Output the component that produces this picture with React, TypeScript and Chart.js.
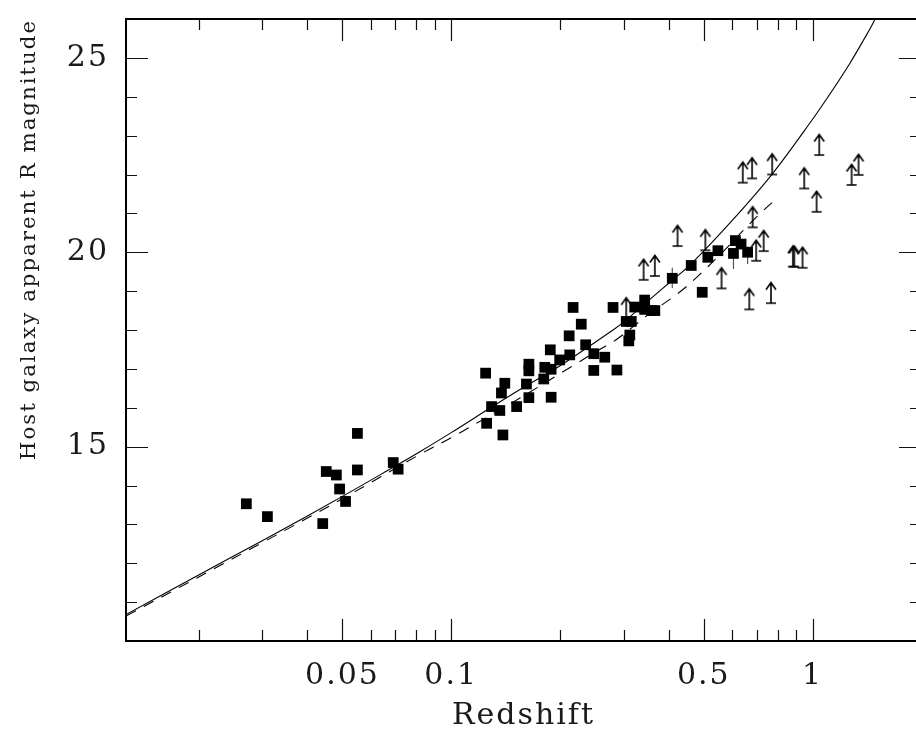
import React, { useEffect, useRef } from 'react';
import { Chart, registerables } from 'chart.js';

Chart.register(...registerables);

// ---- Data ----
// Host galaxy detections: redshift and apparent R magnitude
const detZ = [
  0.0271, 0.031, 0.0441, 0.0451, 0.0481, 0.0491, 0.051, 0.055, 0.055, 0.0691, 0.0713,
  0.1245, 0.1407, 0.1377, 0.1293, 0.1363, 0.1253, 0.139, 0.1517, 0.164, 0.164, 0.1615, 0.164,
  0.1815, 0.1803, 0.189, 0.188, 0.189, 0.1996, 0.212, 0.2128, 0.2355, 0.248, 0.248, 0.266, 0.2874,
  0.2174, 0.229, 0.2804, 0.305, 0.315, 0.312, 0.31, 0.322, 0.343, 0.343, 0.358, 0.366,
  0.409, 0.4615, 0.495, 0.513, 0.547, 0.604, 0.6115, 0.634, 0.661,
];
const detMag = [
  13.53, 13.2, 13.02, 14.36, 14.27, 13.91, 13.59, 15.34, 14.4, 14.59, 14.42,
  16.89, 16.63, 16.38, 16.03, 15.93, 15.6, 15.3, 16.03, 17.12, 16.95, 16.61, 16.26,
  17.04, 16.74, 16.99, 17.49, 16.27, 17.23, 17.85, 17.36, 17.62, 17.39, 16.96, 17.3, 16.97,
  18.58, 18.15, 18.58, 18.22, 18.22, 17.87, 17.72, 18.59, 18.77, 18.53, 18.5, 18.5,
  19.33, 19.66, 18.97, 19.87, 20.04, 19.97, 20.3, 20.21, 20.0,
];

// Lower limits on magnitude (upward arrows): position of the arrow base
const limZ = [
  0.305, 0.3407, 0.366, 0.4229, 0.505, 0.5597, 0.641, 0.668, 0.68, 0.6826, 0.698, 0.732,
  0.767, 0.773, 0.882, 0.89, 0.938, 0.948, 1.026, 1.043, 1.282, 1.34,
];
const limMag = [
  18.3, 19.29, 19.39, 20.16, 20.05, 19.07, 21.79, 18.53, 21.9, 20.64, 19.78, 20.03,
  18.69, 22.0, 19.63, 19.63, 19.6, 21.64, 21.04, 22.5, 21.73, 21.99,
];

// Small vertical error bars
const errZ = [0.409, 0.604, 0.661];
const errLow = [19.08, 19.57, 19.7];
const errHigh = [19.6, 20.08, 20.15];

// Model curve (solid)
const modelZ = [
  0.012589, 0.02, 0.03, 0.05, 0.07, 0.0819, 0.1, 0.13, 0.155, 0.2, 0.2805, 0.305, 0.354,
  0.409, 0.4615, 0.601, 0.776, 1.0, 1.13, 1.27, 1.38, 1.48, 1.56,
];
const modelMag = [
  10.68, 11.7, 12.58, 13.72, 14.5, 14.87, 15.36, 16.03, 16.47, 17.08, 18.0, 18.26, 18.78,
  19.28, 19.7, 20.83, 22.03, 23.42, 24.14, 24.87, 25.44, 25.95, 26.45,
];

// Alternative model curve (dashed)
const altZ = [
  0.012589, 0.03, 0.05, 0.0819, 0.1013, 0.155, 0.217, 0.2576, 0.286, 0.354, 0.428, 0.486,
  0.57, 0.641, 0.713, 0.8005,
];
const altMag = [
  10.64, 12.53, 13.66, 14.8, 15.26, 16.25, 17.08, 17.5, 17.75, 18.42, 18.97, 19.42,
  20.05, 20.55, 20.98, 21.41,
];

// Axes
const X_MIN = 0.012589;
const X_MAX = 1.9953;
const Y_MIN = 10;
const Y_MAX = 26;
const xLabelTicks = [0.05, 0.1, 0.5, 1];
const xMinorTicks = [0.02, 0.03, 0.04, 0.06, 0.07, 0.08, 0.09, 0.2, 0.3, 0.4, 0.6, 0.7, 0.8, 0.9];
const yLabelTicks = [15, 20, 25];
const yMinorTicks = [11, 12, 13, 14, 16, 17, 18, 19, 21, 22, 23, 24];

const X_TITLE = 'Redshift';
const Y_TITLE = 'Host galaxy apparent R magnitude';

const FONT = '"DejaVu Serif", serif';
const INK = '#1a1a1a';

function makeArrow(): HTMLCanvasElement {
  const c = document.createElement('canvas');
  c.width = 14;
  c.height = 46;
  const g = c.getContext('2d')!;
  g.strokeStyle = '#000';
  g.lineWidth = 1.6;
  g.lineCap = 'butt';
  g.beginPath();
  g.moveTo(2, 23);
  g.lineTo(12, 23);
  g.moveTo(7, 23);
  g.lineTo(7, 3.5);
  g.moveTo(2, 9.5);
  g.lineTo(7, 2.5);
  g.lineTo(12, 9.5);
  g.stroke();
  return c;
}

const frameTicks = {
  id: 'frameTicks',
  beforeDraw(chart: any) {
    try {
      chart.ctx.letterSpacing = '2px';
    } catch (e) {}
  },
  afterDraw(chart: any) {
    const { ctx, chartArea } = chart;
    const { left, right, top, bottom } = chartArea;
    const xs = chart.scales.x;
    const ys = chart.scales.y;
    ctx.save();
    ctx.strokeStyle = '#111';
    ctx.lineWidth = 1.2;
    ctx.beginPath();
    const xt = (v: number, len: number) => {
      const p = Math.round(xs.getPixelForValue(v)) + 0.5;
      ctx.moveTo(p, bottom);
      ctx.lineTo(p, bottom - len);
      ctx.moveTo(p, top);
      ctx.lineTo(p, top + len);
    };
    const yt = (v: number, len: number) => {
      const p = Math.round(ys.getPixelForValue(v)) + 0.5;
      ctx.moveTo(left, p);
      ctx.lineTo(left + len, p);
      ctx.moveTo(right, p);
      ctx.lineTo(right - len, p);
    };
    xLabelTicks.forEach((v) => xt(v, 22));
    xMinorTicks.forEach((v) => xt(v, 11));
    yLabelTicks.forEach((v) => yt(v, 22));
    yMinorTicks.forEach((v) => yt(v, 11));
    ctx.stroke();
    ctx.lineWidth = 2;
    ctx.strokeStyle = '#000';
    ctx.strokeRect(left, top, right - left, bottom - top);
    ctx.restore();
  },
};

export default function App() {
  const ref = useRef<HTMLCanvasElement | null>(null);

  useEffect(() => {
    if (!ref.current) return;
    const arrow = makeArrow();

    const errSets = errZ.map((z, i) => ({
      type: 'scatter' as const,
      data: [
        { x: z, y: errLow[i] },
        { x: z, y: errHigh[i] },
      ],
      showLine: true,
      borderColor: '#555',
      borderWidth: 1.2,
      pointRadius: 0,
    }));

    const chart = new Chart(ref.current, {
      type: 'scatter',
      data: {
        datasets: [
          {
            label: 'detections',
            data: detZ.map((z, i) => ({ x: z, y: detMag[i] })),
            pointStyle: 'rect',
            pointRadius: 7.6,
            backgroundColor: '#000',
            borderWidth: 0,
          },
          {
            label: 'limits',
            data: limZ.map((z, i) => ({ x: z, y: limMag[i] })),
            pointStyle: arrow as any,
            pointRadius: 5,
          },
          ...errSets,
          {
            label: 'model',
            data: modelZ.map((z, i) => ({ x: z, y: modelMag[i] })),
            showLine: true,
            borderColor: '#000',
            borderWidth: 1.1,
            pointRadius: 0,
            tension: 0.35,
          },
          {
            label: 'alt',
            data: altZ.map((z, i) => ({ x: z, y: altMag[i] })),
            showLine: true,
            borderColor: '#000',
            borderWidth: 1.1,
            borderDash: [11, 9],
            pointRadius: 0,
            tension: 0.35,
          },
        ] as any,
      },
      options: {
        responsive: false,
        animation: false,
        devicePixelRatio: 1,
        events: [],
        layout: { padding: { top: 19, right: 9, left: 0, bottom: 0 } },
        plugins: {
          legend: { display: false },
          tooltip: { enabled: false },
        },
        scales: {
          x: {
            type: 'logarithmic',
            position: 'bottom',
            min: X_MIN,
            max: X_MAX,
            afterBuildTicks: (s: any) => {
              s.ticks = xLabelTicks.map((v) => ({ value: v }));
            },
            afterFit: (s: any) => {
              s.height = 94;
              s.paddingLeft = 0;
              s.paddingRight = 0;
            },
            grid: { display: false, drawTicks: false },
            border: { display: false },
            ticks: {
              autoSkip: false,
              maxRotation: 0,
              padding: 17,
              color: INK,
              font: { family: FONT, size: 30 },
              callback: (v: any) => String(v),
            },
            title: {
              display: true,
              text: X_TITLE,
              color: INK,
              font: { family: FONT, size: 30 },
              padding: { top: 0, bottom: 1 },
            },
          },
          y: {
            type: 'linear',
            min: Y_MIN,
            max: Y_MAX,
            afterBuildTicks: (s: any) => {
              s.ticks = yLabelTicks.map((v) => ({ value: v }));
            },
            afterFit: (s: any) => {
              s.width = 126;
              s.paddingTop = 0;
              s.paddingBottom = 0;
            },
            grid: { display: false, drawTicks: false },
            border: { display: false },
            ticks: {
              padding: 17,
              color: INK,
              font: { family: FONT, size: 30 },
              callback: (v: any) => String(v),
            },
            title: {
              display: true,
              text: Y_TITLE,
              align: 'end',
              color: INK,
              font: { family: FONT, size: 21.3 },
              padding: { top: 17, bottom: 0 },
            },
          },
        },
      } as any,
      plugins: [frameTicks],
    });
    return () => chart.destroy();
  }, []);

  return (
    <div
      style={{
        position: 'fixed',
        left: 0,
        top: 0,
        width: 916,
        height: 735,
        overflow: 'hidden',
        background: '#fff',
      }}
    >
      <canvas ref={ref} width={930} height={735} style={{ display: 'block', width: 930, height: 735 }} />
    </div>
  );
}
